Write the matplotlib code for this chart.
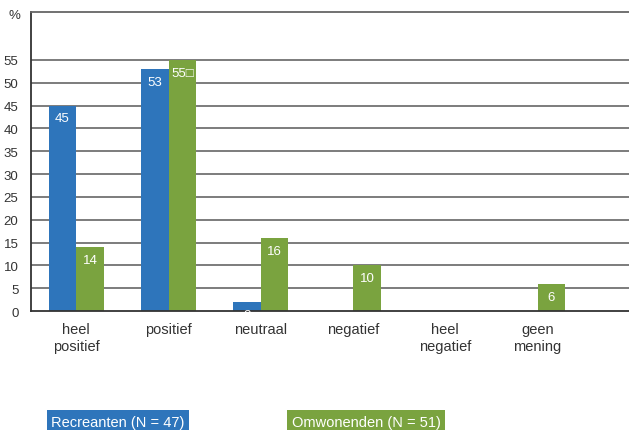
import numpy as np
import matplotlib
matplotlib.use("Agg")
import matplotlib.pyplot as plt

plt.rcParams['font.family'] = ['Liberation Sans', 'DejaVu Sans']

# Opinion categories and percentages per group
categories = ['heel\npositief', 'positief', 'neutraal', 'negatief', 'heel\nnegatief', 'geen\nmening']
recreanten = [45, 53, 2, 0, 0, 0]
omwonenden = [14, 55, 16, 10, 0, 6]
recreanten_labels = ['45', '53', '2', '', '', '']
omwonenden_labels = ['14', '55\u25a1', '16', '10', '', '6']
yticks = [0, 5, 10, 15, 20, 25, 30, 35, 40, 45, 50, 55]

blue = '#2e75bb'
green = '#7aa33f'
grid_col = '#666666'

fig = plt.figure(figsize=(6.29, 4.31), dpi=100)
ax = fig.add_axes([0.0493, 0.276, 0.9507, 0.694])

x = np.arange(len(categories))
w = 0.3

ax.set_axisbelow(True)
for v in yticks[1:]:
    ax.axhline(v, color=grid_col, lw=1.2, zorder=0)

b1 = ax.bar(x - w / 2, recreanten, w, color=blue, zorder=2)
b2 = ax.bar(x + w / 2, omwonenden, w, color=green, zorder=2)

for bars, labels in ((b1, recreanten_labels), (b2, omwonenden_labels)):
    for bar, lab in zip(bars, labels):
        if not lab:
            continue
        ax.annotate(lab, (bar.get_x() + bar.get_width() / 2, bar.get_height()),
                    xytext=(0, -5), textcoords='offset points',
                    ha='center', va='top', color='white', fontsize=9.5,
                    zorder=3, annotation_clip=False)

ax.set_xlim(-0.49, 5.99)
ax.set_ylim(0, 65.5)
ax.set_yticks(yticks)
ax.set_yticklabels([str(v) for v in yticks], fontsize=9.5, color='#333333')
ax.set_xticks(x)
ax.set_xticklabels(categories, fontsize=10.5, color='#333333', linespacing=1.3)
ax.tick_params(axis='both', length=0)
ax.tick_params(axis='x', pad=8)
ax.tick_params(axis='y', pad=9)

for side in ('left', 'bottom', 'top'):
    ax.spines[side].set_color('#333333')
    ax.spines[side].set_linewidth(1.3)
ax.spines['top'].set_color(grid_col)
ax.spines['right'].set_visible(False)

fig.text(0.023, 0.963, '%', fontsize=9.5, color='#333333', ha='center', va='center')

# Legend as coloured label boxes
fig.text(0.081, 0.003, 'Recreanten (N = 47)', fontsize=10.5, color='white',
         ha='left', va='bottom',
         bbox=dict(boxstyle='square,pad=0.3', fc=blue, ec='none'))
fig.text(0.464, 0.003, 'Omwonenden (N = 51)', fontsize=10.5, color='white',
         ha='left', va='bottom',
         bbox=dict(boxstyle='square,pad=0.3', fc=green, ec='none'))

fig.savefig('out.png', dpi=100)
